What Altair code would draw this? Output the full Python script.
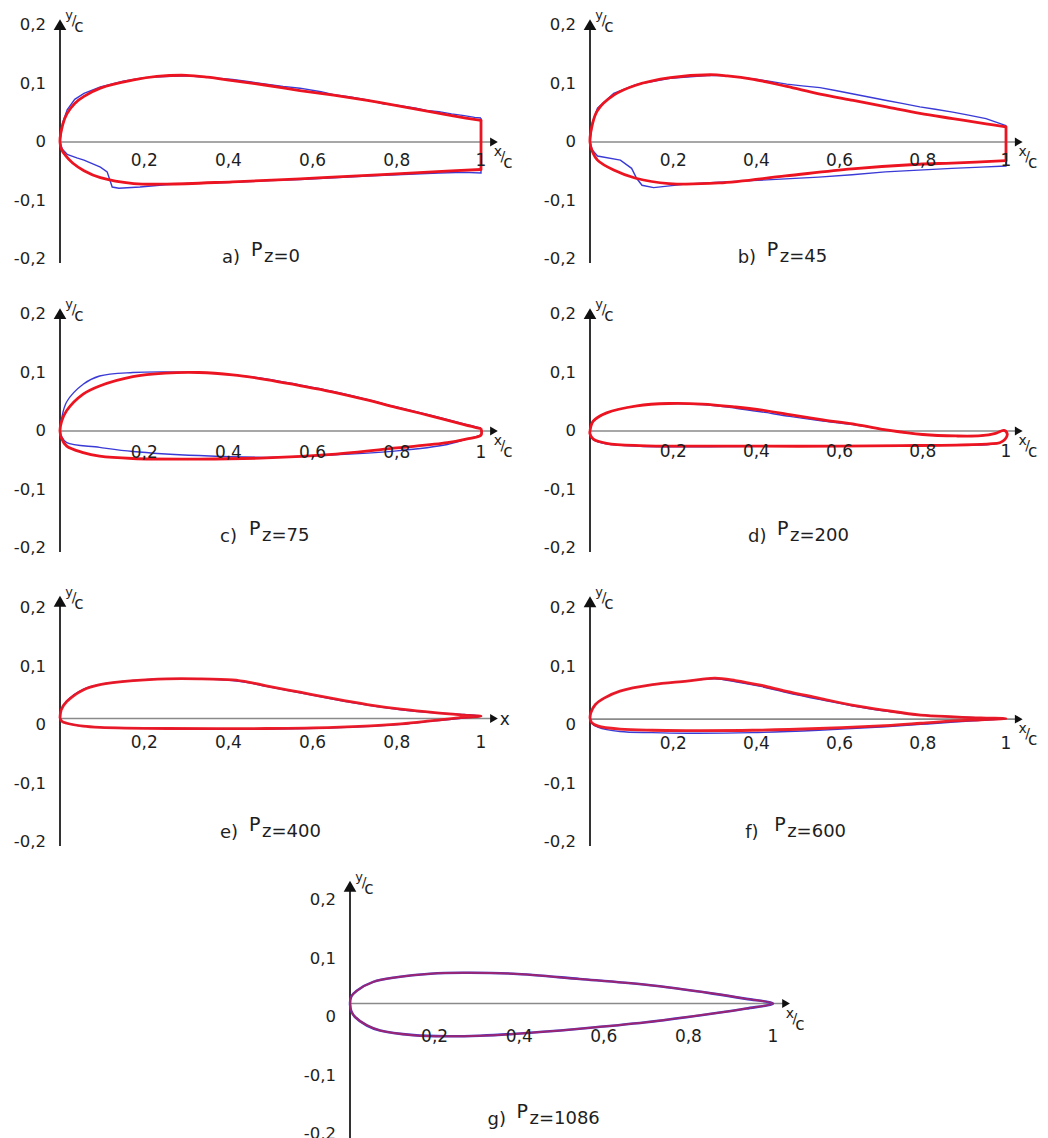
import altair as alt
import pandas as pd

# ------------------------------------------------------------------
# Profile contours (x/c, y/c) for each load case.
# blue = measured section, red = computed section.
# Each list runs once around the section outline.
# ------------------------------------------------------------------

# a) Pz = 0
A_BLUE_X = [1.0, 0.985, 0.96, 0.93, 0.9, 0.87, 0.846, 0.80, 0.77, 0.73, 0.69, 0.65, 0.62, 0.57, 0.53, 0.49, 0.45, 0.41, 0.36, 0.30, 0.25, 0.20, 0.15, 0.096, 0.057, 0.035, 0.017, 0.006, 0.0,
            0.005, 0.017, 0.04, 0.057, 0.096, 0.112, 0.124, 0.14, 0.19, 0.25, 0.30, 0.36, 0.41, 0.50, 0.57, 0.65, 0.73, 0.80, 0.90, 0.96, 1.0, 1.0]
A_BLUE_Y = [0.041, 0.042, 0.045, 0.048, 0.052, 0.054, 0.058, 0.063, 0.065, 0.072, 0.077, 0.081, 0.086, 0.092, 0.095, 0.099, 0.103, 0.107, 0.110, 0.113, 0.112, 0.110, 0.104, 0.094, 0.083, 0.073, 0.055, 0.032, 0.0,
            -0.012, -0.021, -0.027, -0.031, -0.043, -0.051, -0.077, -0.079, -0.077, -0.073, -0.071, -0.070, -0.069, -0.066, -0.064, -0.061, -0.058, -0.056, -0.053, -0.052, -0.053, 0.041]
A_RED_X = [1.0, 0.964, 0.885, 0.81, 0.73, 0.65, 0.57, 0.49, 0.41, 0.35, 0.30, 0.23, 0.175, 0.096, 0.057, 0.035, 0.017, 0.007, 0.0,
           0.004, 0.012, 0.03, 0.057, 0.096, 0.175, 0.254, 0.41, 0.57, 0.73, 0.885, 1.0]
A_RED_Y = [0.037, 0.041, 0.051, 0.061, 0.071, 0.080, 0.088, 0.097, 0.105, 0.111, 0.114, 0.112, 0.106, 0.092, 0.078, 0.066, 0.049, 0.031, 0.0,
           -0.013, -0.022, -0.036, -0.049, -0.061, -0.071, -0.072, -0.068, -0.063, -0.057, -0.051, -0.047]

# b) Pz = 45
B_BLUE_X = [1.0, 0.952, 0.91, 0.872, 0.83, 0.793, 0.75, 0.713, 0.67, 0.633, 0.59, 0.553, 0.51, 0.473, 0.43, 0.393, 0.33, 0.29, 0.193, 0.11, 0.057, 0.018, 0.006, 0.0,
            0.005, 0.018, 0.073, 0.10, 0.112, 0.125, 0.153, 0.23, 0.30, 0.39, 0.47, 0.55, 0.63, 0.71, 0.79, 0.87, 0.94, 1.0, 1.0]
B_BLUE_Y = [0.028, 0.040, 0.046, 0.051, 0.056, 0.060, 0.066, 0.071, 0.077, 0.082, 0.088, 0.093, 0.096, 0.099, 0.104, 0.108, 0.113, 0.114, 0.109, 0.098, 0.083, 0.058, 0.034, 0.0,
            -0.013, -0.024, -0.031, -0.045, -0.062, -0.074, -0.078, -0.072, -0.069, -0.066, -0.063, -0.060, -0.056, -0.051, -0.048, -0.045, -0.043, -0.041, 0.028]
B_RED_X = [1.0, 0.952, 0.872, 0.793, 0.713, 0.633, 0.553, 0.473, 0.393, 0.33, 0.29, 0.193, 0.11, 0.057, 0.018, 0.006, 0.0,
           0.005, 0.018, 0.057, 0.11, 0.19, 0.31, 0.47, 0.63, 0.79, 0.87, 1.0]
B_RED_Y = [0.026, 0.031, 0.040, 0.049, 0.060, 0.071, 0.082, 0.095, 0.107, 0.113, 0.115, 0.110, 0.097, 0.080, 0.054, 0.031, 0.0,
           -0.015, -0.031, -0.048, -0.062, -0.071, -0.070, -0.058, -0.046, -0.038, -0.036, -0.032]

# c) Pz = 75
C_BLUE_X = [1.0, 0.96, 0.88, 0.80, 0.724, 0.646, 0.567, 0.49, 0.41, 0.33, 0.25, 0.173, 0.094, 0.055, 0.016, 0.004, 0.0,
            0.004, 0.016, 0.094, 0.173, 0.33, 0.49, 0.646, 0.80, 0.92, 0.97, 1.0, 1.0]
C_BLUE_Y = [0.005, 0.012, 0.027, 0.041, 0.055, 0.068, 0.079, 0.089, 0.096, 0.100, 0.101, 0.100, 0.094, 0.080, 0.050, 0.022, 0.0,
            -0.010, -0.020, -0.028, -0.035, -0.042, -0.045, -0.041, -0.034, -0.023, -0.013, -0.006, 0.005]
C_RED_X = [1.0, 0.96, 0.88, 0.80, 0.724, 0.646, 0.567, 0.49, 0.41, 0.33, 0.25, 0.173, 0.094, 0.055, 0.016, 0.004, 0.0,
           0.004, 0.016, 0.055, 0.094, 0.173, 0.33, 0.49, 0.646, 0.80, 0.92, 0.97, 1.0, 1.0]
C_RED_Y = [0.004, 0.011, 0.026, 0.040, 0.054, 0.067, 0.078, 0.088, 0.096, 0.100, 0.099, 0.093, 0.077, 0.063, 0.035, 0.017, 0.0,
           -0.013, -0.026, -0.037, -0.043, -0.047, -0.048, -0.046, -0.040, -0.029, -0.020, -0.013, -0.007, 0.004]

# d) Pz = 200
D_BLUE_X = [0.0, 0.003, 0.008, 0.04, 0.113, 0.19, 0.27, 0.35, 0.41, 0.48, 0.56, 0.64, 0.72, 0.80, 0.88, 0.94, 0.975, 0.995, 1.003, 0.998, 0.985, 0.96,
            0.88, 0.75, 0.60, 0.40, 0.25, 0.12, 0.04, 0.008, 0.0, 0.0]
D_BLUE_Y = [0.0, 0.010, 0.017, 0.031, 0.043, 0.047, 0.045, 0.039, 0.033, 0.025, 0.017, 0.010, 0.001, -0.006, -0.009, -0.008, -0.004, 0.001, -0.005, -0.014, -0.020, -0.023,
            -0.024, -0.025, -0.026, -0.026, -0.027, -0.026, -0.022, -0.015, -0.005, 0.0]
D_RED_X = [0.0, 0.003, 0.008, 0.04, 0.113, 0.19, 0.27, 0.35, 0.41, 0.48, 0.56, 0.64, 0.72, 0.80, 0.88, 0.94, 0.975, 0.995, 1.003, 0.998, 0.985, 0.96,
           0.88, 0.75, 0.60, 0.40, 0.25, 0.12, 0.04, 0.008, 0.0, 0.0]
D_RED_Y = [0.0, 0.010, 0.017, 0.031, 0.043, 0.047, 0.046, 0.041, 0.036, 0.028, 0.019, 0.011, 0.001, -0.006, -0.0085, -0.008, -0.004, 0.001, -0.005, -0.014, -0.020, -0.022,
           -0.024, -0.025, -0.026, -0.026, -0.026, -0.025, -0.021, -0.014, -0.005, 0.0]

# e) Pz = 400
E_BLUE_X = [0.0, 0.003, 0.016, 0.055, 0.095, 0.175, 0.254, 0.33, 0.41, 0.45, 0.49, 0.57, 0.65, 0.73, 0.81, 0.89, 0.96, 1.0,
            0.96, 0.89, 0.81, 0.65, 0.49, 0.254, 0.095, 0.055, 0.016, 0.005, 0.0]
E_BLUE_Y = [0.012, 0.026, 0.041, 0.061, 0.069, 0.076, 0.079, 0.079, 0.076, 0.072, 0.066, 0.055, 0.044, 0.034, 0.026, 0.021, 0.018, 0.015,
            0.012, 0.007, 0.001, -0.005, -0.007, -0.006, -0.004, -0.002, 0.003, 0.006, 0.012]
E_RED_X = [0.0, 0.003, 0.016, 0.055, 0.095, 0.175, 0.254, 0.33, 0.41, 0.45, 0.49, 0.57, 0.65, 0.73, 0.81, 0.89, 0.96, 1.0,
           0.96, 0.89, 0.81, 0.65, 0.49, 0.254, 0.095, 0.055, 0.016, 0.005, 0.0]
E_RED_Y = [0.012, 0.026, 0.040, 0.060, 0.069, 0.076, 0.079, 0.079, 0.077, 0.073, 0.067, 0.056, 0.045, 0.035, 0.027, 0.021, 0.017, 0.015,
           0.013, 0.008, 0.002, -0.004, -0.006, -0.006, -0.004, -0.002, 0.003, 0.006, 0.012]

# f) Pz = 600
F_BLUE_X = [0.0, 0.002, 0.013, 0.034, 0.072, 0.15, 0.233, 0.30, 0.35, 0.41, 0.47, 0.55, 0.63, 0.71, 0.795, 0.875, 0.94, 1.0,
            0.94, 0.875, 0.795, 0.71, 0.55, 0.39, 0.233, 0.15, 0.072, 0.02, 0.004, 0.0]
F_BLUE_Y = [0.012, 0.021, 0.035, 0.046, 0.058, 0.069, 0.075, 0.079, 0.074, 0.066, 0.056, 0.044, 0.033, 0.024, 0.017, 0.014, 0.012, 0.011,
            0.008, 0.005, 0.001, -0.003, -0.009, -0.013, -0.014, -0.013, -0.011, -0.004, 0.003, 0.012]
F_RED_X = [0.0, 0.002, 0.013, 0.034, 0.072, 0.15, 0.233, 0.30, 0.35, 0.41, 0.47, 0.55, 0.63, 0.71, 0.795, 0.875, 0.94, 1.0,
           0.94, 0.875, 0.795, 0.71, 0.55, 0.39, 0.233, 0.15, 0.072, 0.02, 0.004, 0.0]
F_RED_Y = [0.012, 0.021, 0.035, 0.046, 0.058, 0.069, 0.075, 0.080, 0.076, 0.068, 0.058, 0.046, 0.034, 0.025, 0.017, 0.014, 0.012, 0.011,
           0.009, 0.007, 0.003, -0.001, -0.006, -0.009, -0.0095, -0.009, -0.007, -0.002, 0.004, 0.012]

# g) Pz = 1086
G_BLUE_X = [0.0, 0.003, 0.016, 0.055, 0.11, 0.19, 0.268, 0.386, 0.543, 0.70, 0.858, 0.937, 1.0,
            0.937, 0.858, 0.70, 0.543, 0.386, 0.307, 0.228, 0.15, 0.071, 0.04, 0.012, 0.003, 0.0]
G_BLUE_Y = [0.023, 0.035, 0.045, 0.060, 0.068, 0.074, 0.0756, 0.074, 0.065, 0.055, 0.040, 0.031, 0.023,
            0.0145, 0.006, -0.009, -0.020, -0.029, -0.032, -0.033, -0.031, -0.023, -0.0145, 0.0, 0.010, 0.023]
G_RED_X = G_BLUE_X
G_RED_Y = G_BLUE_Y

BLUE_X = [A_BLUE_X, B_BLUE_X, C_BLUE_X, D_BLUE_X, E_BLUE_X, F_BLUE_X, G_BLUE_X]
BLUE_Y = [A_BLUE_Y, B_BLUE_Y, C_BLUE_Y, D_BLUE_Y, E_BLUE_Y, F_BLUE_Y, G_BLUE_Y]
RED_X = [A_RED_X, B_RED_X, C_RED_X, D_RED_X, E_RED_X, F_RED_X, G_RED_X]
RED_Y = [A_RED_Y, B_RED_Y, C_RED_Y, D_RED_Y, E_RED_Y, F_RED_Y, G_RED_Y]

# sections a) and b) have a blunt trailing edge: the red outline is closed
# there by a straight segment between its two end points
BLUNT_TE = [True, True, False, False, False, False, False]

# chord-line level of each section (the horizontal x/c axis)
CHORD_Y = [0.0, 0.0, 0.0, 0.0, 0.011, 0.010, 0.023]

# panel captions
PANEL_TAGS = ["a)", "b)", "c)", "d)", "e)", "f)", "g)"]
PZ_TEXT = ["z=0", "z=45", "z=75", "z=200", "z=400", "z=600", "z=1086"]

# axis annotation
X_TICKS = [0.2, 0.4, 0.6, 0.8, 1.0]
X_TICK_TEXT = ["0,2", "0,4", "0,6", "0,8", "1"]
Y_TICKS = [0.2, 0.1, 0.0, -0.1, -0.2]
Y_TICK_TEXT = ["0,2", "0,1", "0", "-0,1", "-0,2"]
X_AXIS_NAME = ["xc", "xc", "xc", "xc", "x", "xc", "xc"]

# ------------------------------------------------------------------
# layout
# ------------------------------------------------------------------
FONT = "DejaVu Sans"
PX_Y = 585.0                     # pixels per unit of y/c
ROW_H = [290, 290, 290, 268]
ZERO_PX = [142, 141, 145, 139]   # distance of the "0" label from the top of each row
COL_GEOM = {
    "left": dict(x0=60, unit=421.0, width=524),
    "right": dict(x0=66, unit=416.0, width=524),
    "full": dict(x0=350, unit=423.0, width=1048),
}
PANEL_POS = [(0, "left"), (0, "right"), (1, "left"), (1, "right"), (2, "left"), (2, "right"), (3, "full")]
TITLE_X = [0.385, 0.355, 0.38, 0.38, 0.38, 0.373, 0.325]
TITLE_BASE_PX = [121, 121, 111, 111, 113, 113, 108]
XLAB_DY = [19, 19, 22, 21, 18, 19, 20]
RED_OPACITY = [1, 1, 1, 1, 0.95, 0.95, 0.55]

BLUE = "#3a3ad6"
RED = "#ec1420"
INK = "#1e1e1e"


def panel(i):
    row, col = PANEL_POS[i]
    g = COL_GEOM[col]
    unit = g["unit"]
    xmin = -g["x0"] / unit
    xmax = xmin + g["width"] / unit
    ymax = ZERO_PX[row] / PX_Y
    ymin = ymax - ROW_H[row] / PX_Y

    xs = alt.Scale(domain=[xmin, xmax], nice=False, zero=False)
    ys = alt.Scale(domain=[ymin, ymax], nice=False, zero=False)

    def X(f="x"):
        return alt.X(f"{f}:Q", scale=xs, axis=None)

    def Y(f="y"):
        return alt.Y(f"{f}:Q", scale=ys, axis=None)

    chord = CHORD_Y[i]
    y_tip = chord + 0.21
    x_tip = 1.04
    up_size, right_size = 160, 80
    up_center = y_tip - 0.433 * up_size ** 0.5 / PX_Y
    right_center = x_tip - 0.433 * right_size ** 0.5 / unit

    red_w = 2.8 if i < 6 else 2.0
    layers = []

    # vertical y/c axis
    layers.append(
        alt.Chart(pd.DataFrame({"x": [0.0], "y": [-0.207], "y2": [up_center]}))
        .mark_rule(color="#333333", strokeWidth=2)
        .encode(x=X(), y=Y(), y2="y2:Q")
    )
    # chord line / x axis
    layers.append(
        alt.Chart(pd.DataFrame({"x": [0.0], "x2": [right_center], "y": [chord]}))
        .mark_rule(color="#8a8a8a", strokeWidth=1.6)
        .encode(x=X(), x2="x2:Q", y=Y())
    )
    # arrow heads
    layers.append(
        alt.Chart(pd.DataFrame({"x": [0.0], "y": [up_center]}))
        .mark_point(shape="triangle-up", size=up_size, filled=True, color="#111111", opacity=1)
        .encode(x=X(), y=Y())
    )
    layers.append(
        alt.Chart(pd.DataFrame({"x": [right_center], "y": [chord]}))
        .mark_point(shape="triangle-right", size=right_size, filled=True, color="#111111", opacity=1)
        .encode(x=X(), y=Y())
    )

    # section outlines
    blue = pd.DataFrame({"x": BLUE_X[i], "y": BLUE_Y[i], "o": list(range(len(BLUE_X[i])))})
    red = pd.DataFrame({"x": RED_X[i], "y": RED_Y[i], "o": list(range(len(RED_X[i])))})
    blue_interp = "linear" if i < 2 else "catmull-rom"
    layers.append(
        alt.Chart(blue)
        .mark_line(color=BLUE, strokeWidth=1.4 if i < 6 else 2.6, interpolate=blue_interp)
        .encode(x=X(), y=Y(), order="o:Q")
    )
    layers.append(
        alt.Chart(red)
        .mark_line(color=RED, strokeWidth=red_w, opacity=RED_OPACITY[i], interpolate="catmull-rom")
        .encode(x=X(), y=Y(), order="o:Q")
    )
    if BLUNT_TE[i]:
        te = pd.DataFrame({"x": [RED_X[i][-1], RED_X[i][0]], "y": [RED_Y[i][-1], RED_Y[i][0]], "o": [0, 1]})
        layers.append(
            alt.Chart(te)
            .mark_line(color=RED, strokeWidth=red_w, opacity=RED_OPACITY[i], strokeCap="round")
            .encode(x=X(), y=Y(), order="o:Q")
        )

    # tick labels
    layers.append(
        alt.Chart(pd.DataFrame({"x": X_TICKS, "y": [0.0] * len(X_TICKS), "t": X_TICK_TEXT}))
        .mark_text(font=FONT, fontSize=17, color=INK, align="center", baseline="middle", dy=XLAB_DY[i])
        .encode(x=X(), y=Y(), text="t:N")
    )
    layers.append(
        alt.Chart(pd.DataFrame({"x": [0.0] * len(Y_TICKS), "y": Y_TICKS, "t": Y_TICK_TEXT}))
        .mark_text(font=FONT, fontSize=16.5, color=INK, align="right", baseline="middle", dx=-14)
        .encode(x=X(), y=Y(), text="t:N")
    )

    # axis names  y/c  and  x/c
    tip_df = pd.DataFrame({"x": [0.0], "y": [y_tip]})
    layers.append(alt.Chart(tip_df).mark_text(font=FONT, fontSize=13, color=INK, align="center", baseline="middle", dx=9, dy=-4)
                  .encode(x=X(), y=Y(), text=alt.value("y")))
    layers.append(alt.Chart(tip_df).mark_text(font=FONT, fontSize=14, color=INK, align="center", baseline="middle", dx=14, dy=2)
                  .encode(x=X(), y=Y(), text=alt.value("/")))
    layers.append(alt.Chart(tip_df).mark_text(font=FONT, fontSize=17, color=INK, align="center", baseline="middle", dx=19, dy=8)
                  .encode(x=X(), y=Y(), text=alt.value("c")))

    xtip_df = pd.DataFrame({"x": [x_tip], "y": [chord]})
    if X_AXIS_NAME[i] == "x":
        layers.append(alt.Chart(xtip_df).mark_text(font=FONT, fontSize=17, color=INK, align="left", baseline="middle", dx=2, dy=1)
                      .encode(x=X(), y=Y(), text=alt.value("x")))
    else:
        layers.append(alt.Chart(xtip_df).mark_text(font=FONT, fontSize=14, color=INK, align="center", baseline="middle", dx=0, dy=10)
                      .encode(x=X(), y=Y(), text=alt.value("x")))
        layers.append(alt.Chart(xtip_df).mark_text(font=FONT, fontSize=14, color=INK, align="center", baseline="middle", dx=5, dy=15)
                      .encode(x=X(), y=Y(), text=alt.value("/")))
        layers.append(alt.Chart(xtip_df).mark_text(font=FONT, fontSize=17, color=INK, align="center", baseline="middle", dx=10, dy=21)
                      .encode(x=X(), y=Y(), text=alt.value("c")))

    # caption  "a)  P z=0"
    cap_df = pd.DataFrame({"x": [TITLE_X[i]], "y": [-TITLE_BASE_PX[i] / PX_Y]})
    layers.append(alt.Chart(cap_df).mark_text(font=FONT, fontSize=18, color=INK, align="left", baseline="alphabetic")
                  .encode(x=X(), y=Y(), text=alt.value(PANEL_TAGS[i])))
    layers.append(alt.Chart(cap_df).mark_text(font=FONT, fontSize=19, color=INK, align="left", baseline="alphabetic", dx=29, dy=-7)
                  .encode(x=X(), y=Y(), text=alt.value("P")))
    layers.append(alt.Chart(cap_df).mark_text(font=FONT, fontSize=18, color=INK, align="left", baseline="alphabetic", dx=42, dy=-1)
                  .encode(x=X(), y=Y(), text=alt.value(PZ_TEXT[i])))

    return alt.layer(*layers).properties(width=g["width"], height=ROW_H[row])


panels = [panel(i) for i in range(7)]
rows = [
    alt.hconcat(panels[0], panels[1], spacing=0),
    alt.hconcat(panels[2], panels[3], spacing=0),
    alt.hconcat(panels[4], panels[5], spacing=0),
    panels[6],
]

chart = (
    alt.vconcat(*rows, spacing=0)
    .properties(padding=0, background="white")
    .configure_view(stroke=None)
)

chart.save("out.html", embed_options={"renderer": "svg", "actions": False})
